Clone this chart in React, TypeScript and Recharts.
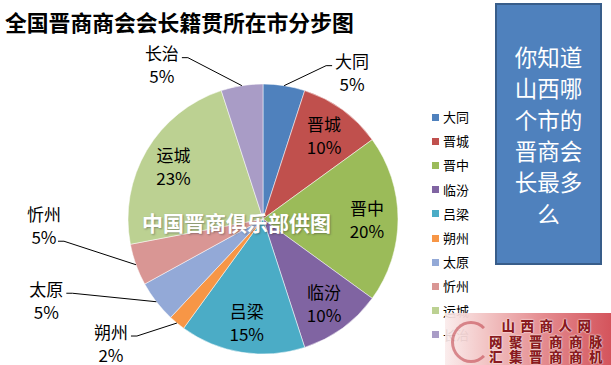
import React from 'react';
import { PieChart, Pie, Cell } from 'recharts';

const categories = ['大同', '晋城', '晋中', '临汾', '吕梁', '朔州', '太原', '忻州', '运城', '长治'];
const shares = [5, 10, 20, 10, 15, 2, 5, 5, 23, 5];
const title = '全国晋商商会会长籍贯所在市分步图';
const boxLines = ['你知道', '山西哪', '个市的', '晋商会', '长最多', '么'];
const watermark = '中国晋商俱乐部供图';
const logoLines = ['山西商人网', '网聚晋商商脉', '汇集晋商商机'];

const colors = ['#4F81BD', '#C0504D', '#9BBB59', '#8064A2', '#4BACC6', '#F79646', '#93A9D7', '#D99694', '#BCD192', '#A99CC6'];

// label layout: inside labels, or outside with offset from slice edge
type Lay = { inside: boolean; dx?: number; dy?: number; attach?: number };
const labelLayout: Lay[] = [
  { inside: false, dx: 68, dy: -13.5, attach: 0 },
  { inside: true },
  { inside: true },
  { inside: true },
  { inside: true },
  { inside: false, dx: -66, dy: 19.5, attach: 0 },
  { inside: false, dx: -110, dy: -2, attach: 0 },
  { inside: false, dx: -92, dy: -40, attach: 1 },
  { inside: true },
  { inside: false, dx: -80, dy: -21.5, attach: 0 },
];

const data = categories.map((name, i) => ({ name, value: shares[i] }));
const RAD = Math.PI / 180;
const FONT = '"Noto Sans CJK SC", "Noto Sans", sans-serif';
const FS = 17;
const LH = 23;

const renderLabel = (props: any) => {
  const { cx, cy, midAngle, outerRadius, percent, index, name } = props;
  const a = -midAngle * RAD;
  const pct = Math.round(percent * 100) + '%';
  const lay = labelLayout[index];
  if (lay.inside) {
    const r = outerRadius * 0.77;
    const x = cx + r * Math.cos(a);
    const y = cy + r * Math.sin(a);
    return (
      <g>
        <text x={x} y={y - LH / 2} textAnchor="middle" dominantBaseline="central" fontSize={FS} fontFamily={FONT} fill="#000">{name}</text>
        <text x={x} y={y + LH / 2} textAnchor="middle" dominantBaseline="central" fontSize={FS} fontFamily={FONT} fill="#000">{pct}</text>
      </g>
    );
  }
  const ex = cx + outerRadius * Math.cos(a);
  const ey = cy + outerRadius * Math.sin(a);
  const bx = ex + (lay.dx || 0);
  const by = ey + (lay.dy || 0);
  const l1 = by - LH / 2;
  const l2 = by + LH / 2;
  const halfW = lay.attach === 0 ? 17 : 11;
  const side = bx < ex ? 1 : -1;
  const ax = bx + side * (halfW + 3);
  const ay = (lay.attach === 0 ? l1 : l2) + 5;
  const sx = ax + side * 6;
  return (
    <g>
      <path d={`M${ax},${ay}L${sx},${ay}L${ex},${ey}`} stroke="#000" strokeWidth={1} fill="none" />
      <text x={bx} y={l1} textAnchor="middle" dominantBaseline="central" fontSize={FS} fontFamily={FONT} fill="#000">{name}</text>
      <text x={bx} y={l2} textAnchor="middle" dominantBaseline="central" fontSize={FS} fontFamily={FONT} fill="#000">{pct}</text>
    </g>
  );
};

export default function App() {
  return (
    <div style={{ position: 'absolute', left: 0, top: 0, width: 611, height: 365, background: '#fff', overflow: 'hidden' }}>
      <div style={{ position: 'absolute', left: 5, top: 8, fontFamily: FONT, fontWeight: 700, fontSize: 21.8, lineHeight: '28px', color: '#000', whiteSpace: 'nowrap' }}>{title}</div>
      <div style={{ position: 'absolute', left: 0, top: 0 }}>
        <PieChart width={611} height={365} margin={{ top: 0, left: 0, right: 0, bottom: 0 }}>
          <Pie
            data={data}
            dataKey="value"
            nameKey="name"
            cx={263}
            cy={219}
            outerRadius={135}
            startAngle={90}
            endAngle={-270}
            stroke="#fff"
            strokeWidth={0.5}
            label={renderLabel}
            labelLine={false}
            isAnimationActive={false}
          >
            {data.map((d, i) => (
              <Cell key={d.name} fill={colors[i]} />
            ))}
          </Pie>
        </PieChart>
      </div>
      <div style={{ position: 'absolute', left: 432, top: 105, fontFamily: FONT, fontSize: 13, color: '#000' }}>
        {categories.map((c, i) => (
          <div key={c} style={{ height: 24.2, display: 'flex', alignItems: 'center' }}>
            <span style={{ display: 'inline-block', width: 7, height: 7, background: colors[i], marginRight: 4 }} />
            <span style={{ lineHeight: '14px' }}>{c}</span>
          </div>
        ))}
      </div>
      <div style={{ position: 'absolute', left: 142, top: 208, fontFamily: FONT, fontWeight: 700, fontSize: 21, lineHeight: '28px', color: '#fff', whiteSpace: 'nowrap', textShadow: '1px 1px 2px rgba(60,60,60,0.45)' }}>{watermark}</div>
      <div style={{ position: 'absolute', left: 495, top: 3, width: 107, height: 262, boxSizing: 'border-box', background: '#4F81BD', border: '2px solid #385D8A', display: 'flex', alignItems: 'center', justifyContent: 'center' }}>
        <div style={{ fontFamily: FONT, fontSize: 22.5, lineHeight: '31.4px', color: '#fff', textAlign: 'center', marginTop: 2 }}>
          {boxLines.map((l, i) => (
            <div key={i}>{l}</div>
          ))}
        </div>
      </div>
      <div style={{ position: 'absolute', left: 445, top: 313, width: 166, height: 52, background: 'linear-gradient(90deg, rgba(250,235,235,0.9) 0%, #f2c4c4 25%, #e48a8e 60%, #d4545c 100%)' }}>
        <div style={{ position: 'absolute', left: 6, top: 8, width: 34, height: 36, borderRadius: '50%', border: '3px solid rgba(190,60,70,0.55)', borderRightColor: 'transparent' }} />
        <div style={{ position: 'absolute', left: 42, top: 5, width: 124, fontFamily: FONT, fontWeight: 900, color: '#8a1a20', textAlign: 'center', textShadow: '0 0 2px #fff, 0 0 1px #fff' }}>
          <div style={{ fontSize: 13.5, lineHeight: '15.5px', letterSpacing: 5.5, whiteSpace: 'nowrap' }}>{logoLines[0]}</div>
          <div style={{ fontSize: 13.5, lineHeight: '15.5px', letterSpacing: 6.5, whiteSpace: 'nowrap' }}>{logoLines[1]}</div>
          <div style={{ fontSize: 13.5, lineHeight: '15.5px', letterSpacing: 6.5, whiteSpace: 'nowrap' }}>{logoLines[2]}</div>
        </div>
      </div>
    </div>
  );
}
